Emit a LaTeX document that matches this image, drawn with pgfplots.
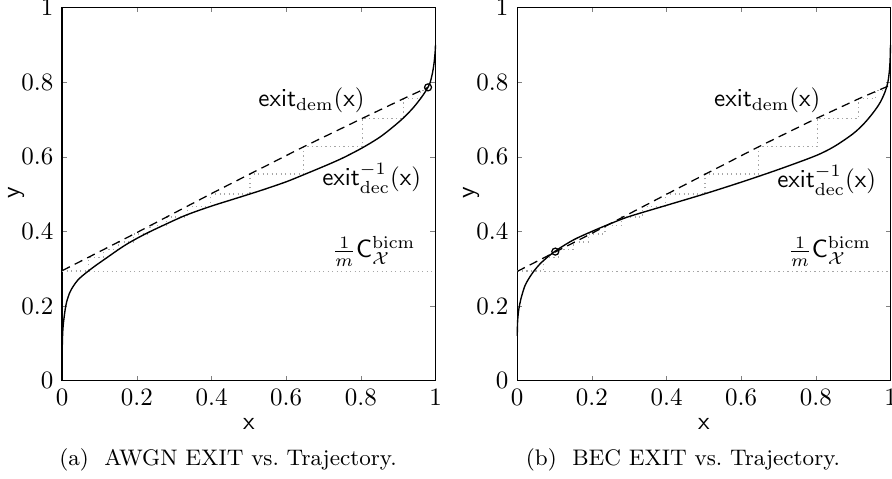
\documentclass[border=0pt]{standalone}
\usepackage{pgfplots}
\pgfplotsset{compat=1.18}
\pgfplotsset{exitax/.style={
  width=149.3pt, height=149.3pt, scale only axis,
  xmin=0, xmax=1, ymin=0, ymax=1,
  xtick={0,0.2,0.4,0.6,0.8,1}, ytick={0,0.2,0.4,0.6,0.8,1},
  tick align=inside, xtick pos=both, ytick pos=both,
  major tick length=2pt,
  axis line style={line width=0.6pt},
  xlabel={$\mathsf{x}$}, ylabel={$\mathsf{y}$},
  xlabel style={at={(axis description cs:0.5,-0.116)}, anchor=center},
  ylabel style={at={(axis description cs:-0.124,0.503)}, anchor=center},
  clip=false,
}}
\pgfplotstableread{
x y
0 0.09
0.001 0.125
0.0025 0.148
0.005 0.17
0.008 0.192
0.012 0.212
0.02 0.236
0.03 0.254
0.042 0.270
0.055 0.282
0.07 0.294
0.09 0.309
0.12 0.330
0.15 0.351
0.178 0.369
0.22 0.392
0.268 0.415
0.33 0.443
0.397 0.467
0.47 0.49
0.536 0.511
0.6 0.533
0.647 0.552
0.7 0.574
0.75 0.596
0.804 0.624
0.85 0.652
0.885 0.679
0.915 0.705
0.94 0.731
0.96 0.756
0.975 0.778
0.985 0.797
0.992 0.825
0.996 0.85
0.999 0.88
1 0.9
}\decawgn
\pgfplotstableread{
x y
0 0.12
0.001 0.16
0.004 0.19
0.01 0.22
0.02 0.253
0.03 0.272
0.044 0.293
0.065 0.317
0.1 0.346
0.15 0.377
0.2 0.40
0.25 0.421
0.3 0.44
0.4 0.47
0.5 0.50
0.6 0.532
0.7 0.566
0.8 0.603
0.85 0.628
0.9 0.662
0.93 0.69
0.955 0.72
0.972 0.745
0.985 0.773
0.993 0.80
0.997 0.83
0.999 0.86
1 0.9
}\decbec
\pgfplotstableread{
x y
0 0.295
0.2 0.397
0.397 0.50
0.503 0.554
0.647 0.627
0.804 0.703
0.915 0.756
0.98 0.786
}\demawgn
\pgfplotstableread{
x y
0 0.293
0.1 0.344
0.2 0.395
0.397 0.498
0.503 0.553
0.647 0.627
0.802 0.703
0.916 0.756
1 0.792
}\dembec
\pgfplotstableread{
x y
0 0.295
0.07 0.295
0.07 0.331
0.11 0.331
0.11 0.352
0.15 0.352
0.15 0.372
0.19 0.372
0.19 0.393
0.235 0.393
0.235 0.416
0.28 0.416
0.28 0.439
0.335 0.439
0.335 0.467
0.397 0.467
0.397 0.50
0.503 0.50
0.503 0.554
0.647 0.554
0.647 0.627
0.804 0.627
0.804 0.703
0.915 0.703
0.915 0.756
0.96 0.756
0.96 0.777
0.978 0.777
0.978 0.786
}\traj
\begin{document}
\begin{tikzpicture}
\tikzset{dotg/.style={gray!70, line width=0.5pt, dash pattern=on 0.5pt off 1.3pt},
         dsh/.style={black, line width=0.5pt, dash pattern=on 3.4pt off 2.2pt},
         sol/.style={black, line width=0.55pt}}
% ---------- (a) ----------
\begin{axis}[exitax, at={(0,0)}, anchor=south west]
\addplot[dotg] coordinates {(0,0.293) (1,0.293)};
\addplot[dotg] table {\traj};
\addplot[dsh] table {\demawgn};
\addplot[sol, smooth] table {\decawgn};
\addplot[only marks, mark=o, mark size=1.4pt, mark options={line width=0.5pt}] coordinates {(0.98,0.786)};
\node at (axis cs:0.668,0.752) {$\mathsf{exit}_{\mathrm{dem}}(\mathsf{x})$};
\node at (axis cs:0.829,0.542) {$\mathsf{exit}^{-1}_{\mathrm{dec}}(\mathsf{x})$};
\node at (axis cs:0.835,0.346) {$\frac{1}{m}\mathsf{C}^{\mathrm{bicm}}_{\mathcal{X}}$};
\end{axis}
% ---------- (b) ----------
\begin{axis}[exitax, at={(182pt,0)}, anchor=south west]
\addplot[dotg] coordinates {(0,0.293) (1,0.293)};
\addplot[dotg] table {\traj};
\addplot[dsh] table {\dembec};
\addplot[sol, smooth] table {\decbec};
\addplot[only marks, mark=o, mark size=1.4pt, mark options={line width=0.5pt}] coordinates {(0.102,0.346)};
\node at (axis cs:0.67,0.752) {$\mathsf{exit}_{\mathrm{dem}}(\mathsf{x})$};
\node at (axis cs:0.829,0.537) {$\mathsf{exit}^{-1}_{\mathrm{dec}}(\mathsf{x})$};
\node at (axis cs:0.837,0.346) {$\frac{1}{m}\mathsf{C}^{\mathrm{bicm}}_{\mathcal{X}}$};
\end{axis}
\node at (66.3pt,-31.7pt) {\fontsize{9}{11}\selectfont (a)\ \ AWGN EXIT vs.\ Trajectory.};
\node at (248.3pt,-31.7pt) {\fontsize{9}{11}\selectfont (b)\ \ BEC EXIT vs.\ Trajectory.};
\pgfresetboundingbox
\useasboundingbox (-24.9pt,-39.3pt) rectangle (331.9pt,152.3pt);
\end{tikzpicture}
\end{document}
